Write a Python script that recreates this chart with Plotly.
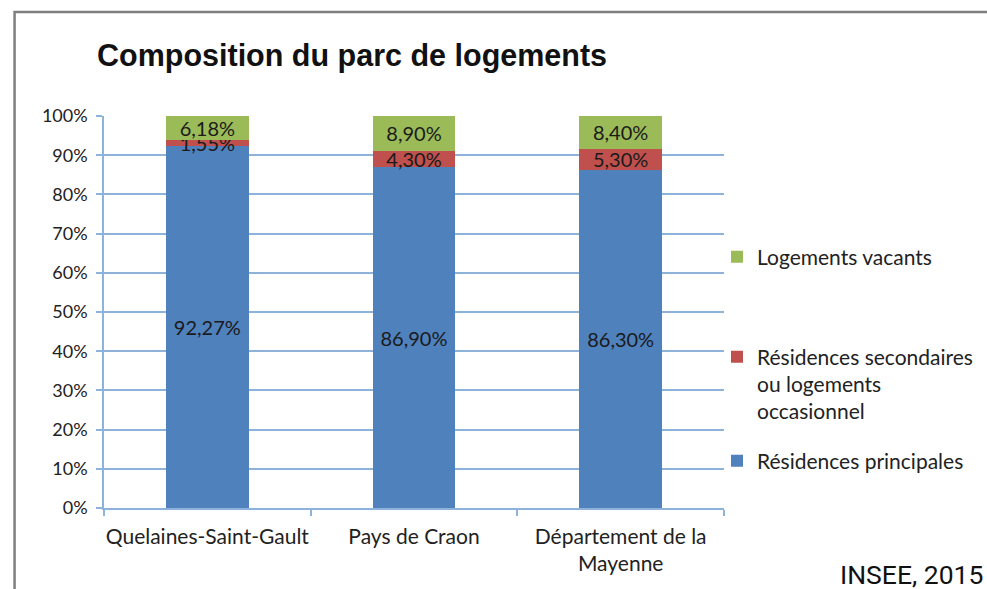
import plotly.graph_objects as go

categories = ["Quelaines-Saint-Gault", "Pays de Craon", "Département de la<br>Mayenne"]
principales = [92.27, 86.90, 86.30]
secondaires = [1.55, 4.30, 5.30]
vacants = [6.18, 8.90, 8.40]
series_names = ["Résidences principales", "Résidences secondaires<br>ou logements<br>occasionnel", "Logements vacants"]
y_ticks = [0, 10, 20, 30, 40, 50, 60, 70, 80, 90, 100]
y_tick_labels = ["0%", "10%", "20%", "30%", "40%", "50%", "60%", "70%", "80%", "90%", "100%"]

W, H = 987, 589
L, R, T, B = 103.5, 724, 116, 508

def px_x(p):
    return (p - L) / (R - L)

def px_y(p):
    return (B - p) / (B - T)

def fmt(v):
    return f"{v:.2f}".replace(".", ",") + "%"

colors = ["#4F81BD", "#C0504D", "#9BBB59"]
values = [principales, secondaires, vacants]
legends = ["legend3", "legend2", "legend"]

FONT = "Lato"
fig = go.Figure()
for name, vals, col, lg in zip(series_names, values, colors, legends):
    fig.add_trace(go.Bar(
        x=categories, y=vals, name=name, marker_color=col,
        marker_line_width=0,
        text=[fmt(v) for v in vals], textposition="inside",
        insidetextanchor="middle", textangle=0, constraintext="none",
        textfont=dict(family=FONT, size=20, color="#1a1a1a"),
        legend=lg, width=0.4,
    ))

grid = "#8DB3DA"
leg_common = dict(font=dict(family=FONT, size=21, color="#222"), bgcolor="rgba(0,0,0,0)",
                  xanchor="left", yanchor="middle", valign="top", itemclick=False)

fig.update_layout(
    width=W, height=H,
    margin=dict(l=L, r=W - R, t=T, b=H - B, pad=0, autoexpand=False),
    paper_bgcolor="white", plot_bgcolor="white",
    barmode="stack", bargap=0.6,
    showlegend=True,
    legend=dict(x=px_x(717), y=px_y(257), **leg_common),
    legend2=dict(x=px_x(717), y=px_y(384), **leg_common),
    legend3=dict(x=px_x(717), y=px_y(461), **leg_common),
    xaxis=dict(showline=True, linecolor=grid, linewidth=1.5, ticks="outside",
               tickson="boundaries", ticklen=6, tickcolor=grid, tickwidth=1.5,
               tickangle=0, automargin=False, ticklabelstandoff=9,
               tickfont=dict(family=FONT, size=21, color="#222")),
    yaxis=dict(range=[0, 100], tickmode="array", tickvals=y_ticks, ticktext=y_tick_labels,
               showgrid=True, automargin=False, ticklabelstandoff=5,
               gridcolor=grid, gridwidth=1.5, showline=True, linecolor=grid,
               linewidth=1.5, ticks="outside", ticklen=6, tickcolor=grid,
               tickwidth=1.5, zeroline=False,
               tickfont=dict(family=FONT, size=18, color="#222")),
    title=dict(text="<b>Composition du parc de logements</b>", x=97 / W, xanchor="left",
               y=1 - 55 / H, yanchor="middle",
               font=dict(family="Liberation Sans", size=30.5, color="#111")),
)

fig.add_shape(type="rect", xref="paper", yref="paper",
              x0=px_x(14), x1=px_x(995), y0=px_y(12), y1=px_y(600),
              line=dict(color="#7f7f7f", width=2.5), fillcolor="rgba(0,0,0,0)", layer="below")

fig.add_annotation(text="INSEE, 2015", xref="paper", yref="paper",
                   x=px_x(985), y=px_y(574), xanchor="right", yanchor="middle",
                   showarrow=False, font=dict(family="Roboto", size=26.5, color="#111"))

fig.write_html("out.html", config={"displayModeBar": False},
               post_script="document.body.style.margin='0';document.body.style.overflow='hidden';")
